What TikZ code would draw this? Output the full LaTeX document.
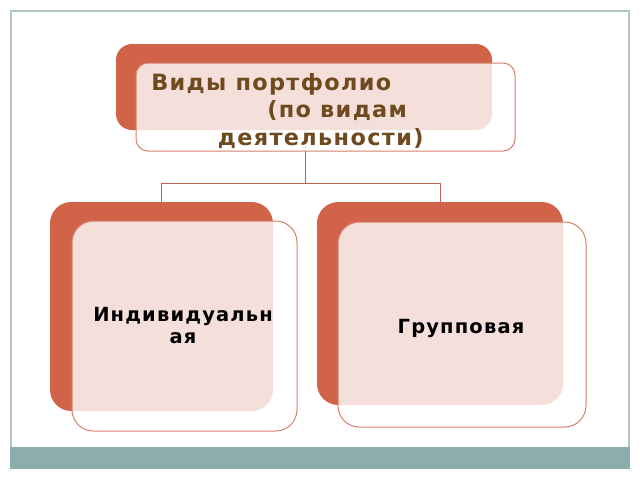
\documentclass[tikz,border=0pt]{standalone}
\usepackage{fontspec}
\setmainfont{DejaVu Sans}[LetterSpace=6]
\usetikzlibrary{fit}
\definecolor{backred}{RGB}{209,99,73}
\definecolor{edgered}{RGB}{214,128,108}
\definecolor{linkred}{RGB}{192,96,76}
\definecolor{titlebrown}{RGB}{110,74,30}
\definecolor{framegray}{RGB}{180,198,196}
\definecolor{bargray}{RGB}{139,173,172}
\tikzset{
  backbox/.style={inner sep=0pt, fill=backred, rounded corners=#1},
  frontbox/.style={inner sep=0pt, draw=edgered, line width=0.75pt, fill=white, fill opacity=0.8, rounded corners=#1},
  link/.style={draw=linkred, line width=0.75pt},
  titletext/.style={text=titlebrown, font=\fontsize{16.8}{20.6}\selectfont\bfseries, align=left, inner sep=0pt, anchor=north west},
  itemtext/.style={text=black, font=\fontsize{14.6}{16.5}\selectfont\bfseries, align=center, inner sep=0pt}
}
\begin{document}
\begin{tikzpicture}[x=0.75pt, y=-0.75pt]
\useasboundingbox[fill=white] (0,0) rectangle (640,480);
% frame
\draw[framegray, line width=1pt] (11,447) -- (11,11) -- (629,11) -- (629,447);
\fill[bargray] (10,447) rectangle (630,469);
% top
\coordinate (j) at (305,183);
\node[backbox=12pt, fit={(116,44) (492,130)}] (backT) {};
\draw[link] (backT.south -| j) -- (j);
\node[frontbox=9pt, fit={(136,63) (515,151)}] (frontT) {};
\node[titletext] (title) at (151,73) {Виды портфолио\\\hspace*{87pt}(по видам\\\hspace*{50pt}деятельности)};
% left
\node[backbox=16pt, fit={(50,202) (273,411)}] (backL) {};
\node[frontbox=16pt, fit={(72,221) (297,431)}] (frontL) {};
\node[itemtext] (indiv) at (183,326) {Индивидуальн\\ая};
% right
\node[backbox=16pt, fit={(317,202) (563,405)}] (backR) {};
\node[frontbox=16pt, fit={(338,222) (586,427)}] (frontR) {};
\node[itemtext] (group) at (461,328) {Групповая};
% connectors
\draw[link] (frontT.south -| j) -- (j);
\draw[link] (backL.north |- j) -- (backR.north |- j);
\draw[link] (backL.north |- j) -- (backL.north);
\draw[link] (backR.north |- j) -- (backR.north);
\end{tikzpicture}
\end{document}
